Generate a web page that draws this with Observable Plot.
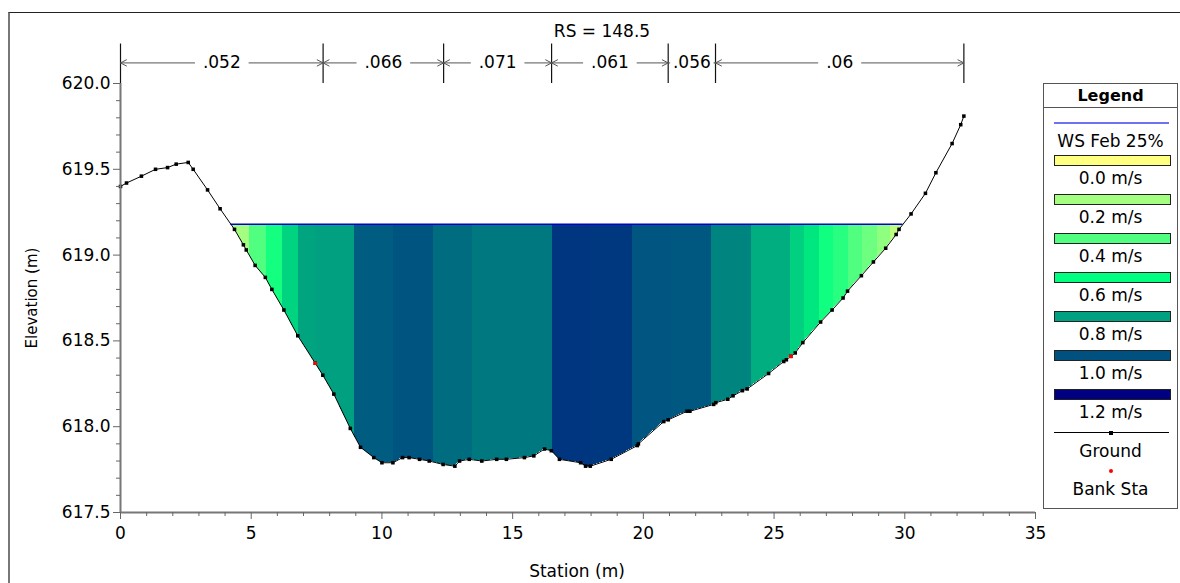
<!DOCTYPE html>
<html><head><meta charset="utf-8">
<script src="https://cdn.jsdelivr.net/npm/d3@7"></script>
<script src="https://cdn.jsdelivr.net/npm/@observablehq/plot@0.6"></script>
<style>
body{margin:0;background:#fff;font-family:"DejaVu Sans",sans-serif;}
#wrap{position:relative;width:1180px;height:583px;overflow:hidden;}
#frame{position:absolute;left:8px;top:12px;width:1300px;height:700px;border-left:2px solid #777;border-top:1.5px solid #222;}
#chart{position:absolute;left:0;top:0;}
.lab{position:absolute;font-size:16px;color:#000;white-space:nowrap;transform:translate(-50%,-50%);}
#legend{position:absolute;left:1043px;top:83px;width:133px;height:424px;border:1px solid #555;background:#fff;}
#legend div{position:absolute;}
</style></head>
<body><div id="wrap"><div id="frame"></div><div id="chart"></div></div>
<script>
// ---------------- data ----------------
const groundStation = [0.00,0.23,0.80,1.34,1.80,2.13,2.59,2.78,3.33,3.81,4.36,4.70,4.81,5.15,5.54,5.79,6.25,6.78,7.45,7.74,8.16,8.79,9.18,9.69,10.00,10.42,10.79,11.04,11.44,11.81,12.34,12.79,12.97,13.34,13.82,14.39,14.76,15.45,15.81,16.22,16.48,16.79,17.60,17.79,17.97,18.77,19.77,19.81,20.78,20.95,21.67,21.78,22.69,22.77,23.23,23.43,23.79,23.97,24.79,25.37,25.47,25.64,25.81,26.10,26.78,27.22,27.64,27.81,28.34,28.80,29.27,29.67,29.78,30.24,30.79,31.19,31.81,32.14,32.26];
const groundElev = [619.40,619.42,619.46,619.50,619.51,619.53,619.54,619.50,619.38,619.27,619.15,619.06,619.03,618.94,618.87,618.80,618.68,618.53,618.37,618.30,618.19,617.99,617.88,617.82,617.79,617.79,617.82,617.82,617.81,617.80,617.78,617.77,617.80,617.81,617.80,617.81,617.81,617.82,617.83,617.87,617.86,617.81,617.79,617.77,617.77,617.81,617.89,617.90,618.03,618.04,618.09,618.09,618.13,618.14,618.16,618.18,618.21,618.22,618.31,618.38,618.39,618.41,618.43,618.49,618.61,618.68,618.75,618.79,618.88,618.96,619.04,619.12,619.15,619.24,619.36,619.48,619.65,619.76,619.81];
const bankStation = [7.45, 25.64];
const bankElev = [618.37, 618.41];
const wsElev = 619.18;
const stripBreaks = [4.95,5.58,6.20,6.82,7.46,8.95,10.45,11.96,13.48,16.53,18.03,19.57,21.08,22.61,24.13,25.63,26.18,26.75,27.29,27.85,28.39,28.97,29.45];
const stripVelocity = [0.20,0.40,0.55,0.69,0.79,0.80,0.97,0.99,0.93,0.90,1.065,1.06,0.985,0.98,0.87,0.77,0.70,0.65,0.56,0.50,0.40,0.33,0.25,0.14];
const nBreaks = [0, 7.75, 12.36, 16.49, 20.95, 22.76, 32.26];
const nValues = [".052", ".066", ".071", ".061", ".056", ".06"];
const legendSpeeds = [0.0, 0.2, 0.4, 0.6, 0.8, 1.0, 1.2];
const legendColors = ["#ffff80", "#a4ff80", "#50ff80", "#00ff80", "#00a080", "#005080", "#000080"];
const legendLabels = ["0.0 m/s","0.2 m/s","0.4 m/s","0.6 m/s","0.8 m/s","1.0 m/s","1.2 m/s"];
const xMajor = [0,5,10,15,20,25,30,35];
const yMajor = [617.5,618.0,618.5,619.0,619.5,620.0];
const title = "RS = 148.5";
const wsName = "WS Feb 25%";

// ---------------- derived ----------------
const ground = groundStation.map((x,i)=>({x, y: groundElev[i]}));
const bank = bankStation.map((x,i)=>({x, y: bankElev[i]}));
function groundAt(x){
  for(let i=0;i<ground.length-1;i++){
    const a=ground[i], b=ground[i+1];
    if(x>=a.x && x<=b.x) return a.y + (b.y-a.y)*(x-a.x)/(b.x-a.x);
  }
  return NaN;
}
function crossing(fromLeft){
  const n=ground.length;
  if(fromLeft){
    for(let i=0;i<n-1;i++){const a=ground[i],b=ground[i+1];
      if(a.y>=wsElev && b.y<wsElev) return a.x+(b.x-a.x)*(a.y-wsElev)/(a.y-b.y);}
  } else {
    for(let i=n-1;i>0;i--){const a=ground[i-1],b=ground[i];
      if(b.y>=wsElev && a.y<wsElev) return a.x+(b.x-a.x)*(wsElev-a.y)/(b.y-a.y);}
  }
}
const wsLeft = crossing(true), wsRight = crossing(false);
const edges = [wsLeft, ...stripBreaks, wsRight];
const stripRows = [];
for(let i=0;i<edges.length-1;i++){
  const x0=edges[i], x1=edges[i+1], v=stripVelocity[i];
  const pts=[x0, ...groundStation.filter(x=>x>x0 && x<x1), x1];
  for(const x of pts) stripRows.push({strip:i, x, y1: Math.min(groundAt(x), wsElev), y2: wsElev, v});
}
const annElev = 620.12, tickTop = 620.23, tickBottom = 620.0;
const pxPerUnit = (1180-120-145)/35;
const nRows = nValues.map((t,i)=>{
  const a=nBreaks[i], b=nBreaks[i+1], m=(a+b)/2;
  const half = Math.min(((t.length*10.6)/2 + 6)/pxPerUnit, (b-a)/2 - 0.06);
  return {a,b,m,t,half,y:annElev};
});
const arrowRows = nRows.flatMap(r=>[
  {x1:r.m - r.half, x2:r.a, y:r.y},
  {x1:r.m + r.half, x2:r.b, y:r.y}
]);
const xMinor = d3.range(0,36).filter(d=>d%5!==0);
const yMinor = d3.range(0,26).map(i=>+(617.5+i*0.1).toFixed(1)).filter(d=>Math.round(d*10)%5!==0);

const plot = Plot.plot({
  width:1180, height:583, marginLeft:120, marginRight:145, marginTop:83, marginBottom:71,
  x:{domain:[0,35]}, y:{domain:[617.5,620]},
  color:{type:"linear", domain:legendSpeeds, range:legendColors},
  style:{fontFamily:"DejaVu Sans, sans-serif", fontSize:"16px", background:"transparent", overflow:"visible", color:"#000"},
  marks:[
    Plot.areaY(stripRows, {x:"x", y1:"y1", y2:"y2", z:"strip", fill:"v", shapeRendering:"crispEdges", curve:"linear"}),
    Plot.ruleY([wsElev], {x1:wsLeft, x2:wsRight, stroke:"#0000cc", strokeWidth:1.4}),
    Plot.line(ground, {x:"x", y:"y", stroke:"#000", strokeWidth:1}),
    Plot.dot(ground, {x:"x", y:"y", symbol:"square", r:2, fill:"#000", stroke:"none"}),
    Plot.dot(bank, {x:"x", y:"y", symbol:"square", r:2, fill:"#f00", stroke:"none"}),
    Plot.ruleX(nBreaks, {x:d=>d, y1:()=>tickBottom, y2:()=>tickTop, stroke:"#111", strokeWidth:1.2}),
    Plot.arrow(arrowRows, {x1:"x1", x2:"x2", y1:"y", y2:"y", stroke:"#555", strokeWidth:1, headLength:10, headAngle:55, insetEnd:0, insetStart:0}),
    Plot.text(nRows, {x:"m", y:"y", text:"t", fontSize:17, fill:"#000"}),
    Plot.ruleY([617.5], {x1:0, x2:35, stroke:"#777", strokeWidth:2}),
    Plot.ruleX([0], {y1:617.5, y2:620, stroke:"#777", strokeWidth:2}),
    Plot.axisX({ticks:xMajor, tickSize:7, tickPadding:7, fontSize:17, label:null, stroke:"#666", fill:"#000"}),
    Plot.axisX({ticks:xMinor, tickSize:4, tickFormat:()=>"", label:null, stroke:"#666"}),
    Plot.axisY({ticks:yMajor, tickSize:7, tickPadding:3, fontSize:17, tickFormat:d3.format(".1f"), label:null, stroke:"#666", fill:"#000"}),
    Plot.axisY({ticks:yMinor, tickSize:4, tickFormat:()=>"", label:null, stroke:"#666"})
  ]
});
document.getElementById("chart").appendChild(plot);

const wrap = document.getElementById("wrap");
function addLab(text, x, y, extra){
  const d=document.createElement("div"); d.className="lab"; d.textContent=text;
  d.style.left=x+"px"; d.style.top=y+"px";
  if(extra) Object.assign(d.style, extra);
  wrap.appendChild(d); return d;
}
addLab(title, 602, 31, {fontSize:"17px"});
addLab("Station (m)", 577, 571, {fontSize:"17px"});
addLab("Elevation (m)", 32, 298, {transform:"translate(-50%,-50%) rotate(-90deg)", fontSize:"15px"});

// legend
const lg=document.createElement("div"); lg.id="legend"; wrap.appendChild(lg);
function lgText(t, cy, bold){
  const d=document.createElement("div"); d.textContent=t;
  Object.assign(d.style,{left:"0",width:"133px",textAlign:"center",top:(cy-10)+"px",height:"20px",lineHeight:"20px",fontSize:bold?"16px":"17px",fontWeight:bold?"bold":"normal"});
  lg.appendChild(d);
}
function lgBox(top, h, style){ const d=document.createElement("div"); Object.assign(d.style,{left:"10px",width:"115px",top:top+"px",height:h+"px"},style); lg.appendChild(d); return d;}
lgText("Legend", 12, true);
lgBox(23, 0, {left:"0",width:"133px",borderTop:"1px solid #555"});
lgBox(38, 0, {borderTop:"2px solid #7070f0"});
lgText(wsName, 57);
legendSpeeds.forEach((s,i)=>{
  lgBox(71+39*i, 9, {background:legendColors[i], border:"1px solid #222"});
  lgText(legendLabels[i], 94+39*i);
});
lgBox(348, 0, {borderTop:"1px solid #000"});
lgBox(346.5, 4, {left:"65px",width:"4px",background:"#000"});
lgText("Ground", 367);
lgBox(385, 4, {left:"65px",width:"4px",background:"#f00",borderRadius:"2px"});
lgText("Bank Sta", 405);
</script></body></html>
